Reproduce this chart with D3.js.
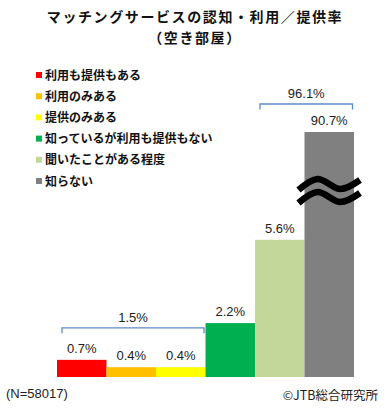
<!DOCTYPE html>
<html><head><meta charset="utf-8">
<script src="https://cdn.jsdelivr.net/npm/d3@7"></script>
<style>
body{margin:0;background:#fff;}
svg{display:block;}
</style></head>
<body>
<svg id="chart" width="390" height="410"></svg>
<script>
// ---- data ----
const titleLines = ["マッチングサービスの認知・利用／提供率", "（空き部屋）"];
const categories = ["利用も提供もある", "利用のみある", "提供のみある", "知っているが利用も提供もない", "聞いたことがある程度", "知らない"];
const values = [0.7, 0.4, 0.4, 2.2, 5.6, 90.7];
const valueLabels = ["0.7%", "0.4%", "0.4%", "2.2%", "5.6%", "90.7%"];
const colors = ["#FF0000", "#FFC000", "#FFFF00", "#00B050", "#C4D79B", "#808080"];
const bracketStart = [0, 4];
const bracketEnd = [2, 5];
const bracketLabels = ["1.5%", "96.1%"];
const breakCategory = 5;
const axisMax = 10; // broken axis: values above are cut
const footnoteLeft = "(N=58017)";
const footnoteRight = "©JTB総合研究所";

const svg = d3.select("#chart");
const jp = "'Noto Sans CJK JP', sans-serif";
const num = "'Liberation Sans', Arial, sans-serif";

const x = d3.scaleBand().domain(categories).range([57, 354]).padding(0);
const y = d3.scaleLinear().domain([0, axisMax]).range([377, 132]).clamp(true);

// title
svg.selectAll("text.title").data(titleLines).join("text")
  .attr("class", "title")
  .attr("x", 195).attr("y", (d, i) => 22 + i * 20.5)
  .attr("text-anchor", "middle")
  .style("font-family", jp).style("font-size", "14px").style("font-weight", "bold")
  .style("letter-spacing", "1.6px")
  .attr("fill", "#111").text(d => d);

// legend
const leg = svg.append("g");
const legItems = leg.selectAll("g").data(categories).join("g")
  .attr("transform", (d, i) => `translate(36, ${75 + i * 21.2})`);
legItems.append("rect").attr("x", 0).attr("y", -3).attr("width", 6).attr("height", 6)
  .attr("fill", (d, i) => colors[i]);
legItems.append("text").attr("x", 9).attr("y", 4.5)
  .style("font-family", jp).style("font-size", "12px").style("font-weight", "bold")
  .attr("fill", "#111").text(d => d);

// bars
svg.append("g").selectAll("rect").data(categories).join("rect")
  .attr("x", d => x(d)).attr("width", x.bandwidth())
  .attr("y", (d, i) => y(values[i])).attr("height", (d, i) => y(0) - y(values[i]))
  .attr("fill", (d, i) => colors[i]);

// value labels
svg.append("g").selectAll("text").data(categories).join("text")
  .attr("x", d => x(d) + x.bandwidth() / 2)
  .attr("y", (d, i) => y(values[i]) - 7)
  .attr("text-anchor", "middle")
  .style("font-family", num).style("font-size", "13px")
  .attr("fill", "#222").text((d, i) => valueLabels[i]);

// break symbol on the cut bar
const bc = categories[breakCategory];
const bx = x(bc), bw = x.bandwidth();
const wave = d3.line().curve(d3.curveCatmullRom.alpha(0.5));
[0, 13].forEach(dy => {
  const pts = [[bx - 6, 190 + dy], [bx + 13, 179 + dy], [bx + 36, 189 + dy], [bx + bw + 6, 180 + dy]];
  svg.append("path").attr("d", wave(pts)).attr("fill", "none")
    .attr("stroke", "#000").attr("stroke-width", 6.5);
});

// brackets
const bracketG = svg.append("g");
bracketLabels.forEach((lab, k) => {
  const c0 = categories[bracketStart[k]], c1 = categories[bracketEnd[k]];
  const x0 = x(c0) + 5, x1 = x(c1) + x.bandwidth() - 1.5;
  const top = d3.min(d3.range(bracketStart[k], bracketEnd[k] + 1), i => y(values[i]));
  const by = top - (k === 0 ? 32 : 28);
  bracketG.append("path")
    .attr("d", `M${x0},${by + 5.5}V${by}H${x1}V${by + 5.5}`)
    .attr("fill", "none").attr("stroke", "#5B8BC9").attr("stroke-width", 1.3);
  bracketG.append("text").attr("x", (x0 + x1) / 2).attr("y", by - 6)
    .attr("text-anchor", "middle")
    .style("font-family", num).style("font-size", "13px")
    .attr("fill", "#222").text(lab);
});

// footnotes
svg.append("text").attr("x", 6).attr("y", 398)
  .style("font-family", num).style("font-size", "13px").attr("fill", "#222").text(footnoteLeft);
svg.append("text").attr("x", 378).attr("y", 400).attr("text-anchor", "end")
  .style("font-family", jp).style("font-size", "12.5px").attr("fill", "#222").text(footnoteRight);
</script>
</body></html>
